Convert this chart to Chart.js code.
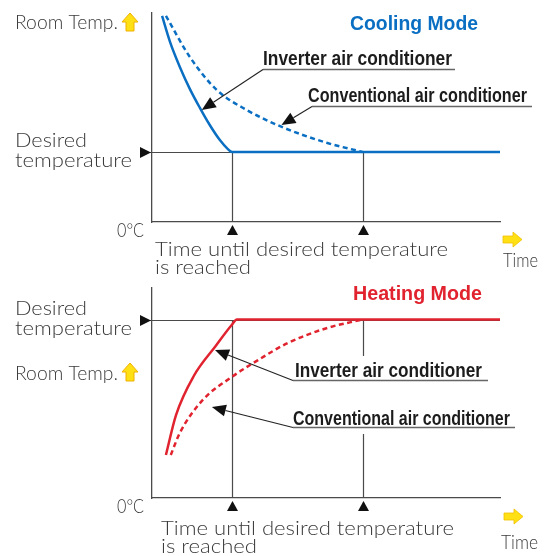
<!DOCTYPE html>
<html>
<head>
<meta charset="utf-8">
<title>Inverter vs conventional air conditioner</title>
<script src="https://cdn.jsdelivr.net/npm/chart.js@4.4.1/dist/chart.umd.min.js"></script>
<style>
  html, body { margin: 0; padding: 0; background: #fff; }
  #wrap { position: relative; width: 549px; height: 556px; overflow: hidden; }
  #wrap canvas { position: absolute; left: 0; }
  #coolChart { top: 0; }
  #heatChart { top: 280px; }
</style>
</head>
<body>
<div id="wrap">
  <canvas id="coolChart" width="549" height="280" style="width:549px;height:280px"></canvas>
  <canvas id="heatChart" width="549" height="276" style="width:549px;height:276px"></canvas>
</div>
<script>
// time runs 0..100 along x, room temperature 0..100 up y (0 = 0°C)
const timeRange = [0, 100];
const tempRange = [0, 100];

// moments the two units reach the set point: inverter, conventional
const reachTimes = [23, 60.5];

// --- cooling ---
const coolDesired = 33.5;
const coolInverterTime = [2.9, 5.2, 8.0, 10.9, 13.8, 16.6, 19.5, 21.8, 23, 100];
const coolInverterTemp = [98.6, 86.1, 74.2, 63.6, 54.5, 46.4, 39.2, 34.9, 33.5, 33.5];
const coolConventionalTime = [4.0, 10.9, 18.6, 27.2, 37.3, 50.4, 60.5];
const coolConventionalTemp = [98.6, 78.9, 63.2, 53.6, 45.5, 37.8, 33.5];
const coolTips = [[14.3, 53.6], [37.2, 46.4]];

// --- heating ---
const heatDesired = 85;
const heatInverterTime = [4.0, 6.9, 12.0, 18.3, 22.9, 24.4, 100];
const heatInverterTemp = [20.5, 39.5, 58.1, 72.4, 82.4, 85, 85];
const heatConventionalTime = [5.4, 8.0, 14.6, 22.9, 31.0, 39.0, 50.4, 60.5];
const heatConventionalTemp = [20.5, 31.0, 46.7, 57.6, 66.2, 73.8, 81.0, 85];
const heatTips = [[18.1, 70.5], [17.2, 43.3]];

const BLUE = '#0a6fc2';
const RED = '#e1232f';
const GRAY = '#4a4a4a';
const TEXT = '#3a3a3a';
const INK = '#1c1c1c';
const LIGHT_FONT = '300 20px Lato, "Liberation Sans", Arial, sans-serif';
const BOLD_NARROW = 'bold 20px "Liberation Sans Narrow", "Liberation Sans", Arial, sans-serif';
const BOLD_FONT = 'bold 20px "Liberation Sans", Arial, sans-serif';

// draws text squeezed/stretched to an exact width
function fitText(ctx, str, x, y, w, font, color) {
    ctx.save();
    ctx.font = font;
    ctx.fillStyle = color;
    ctx.textBaseline = 'alphabetic';
    ctx.textAlign = 'left';
    const m = ctx.measureText(str).width;
    ctx.translate(x, y);
    ctx.scale(w / m, 1);
    ctx.fillText(str, 0, 0);
    ctx.restore();
}

function triangle(ctx, a, b, c, color) {
    ctx.fillStyle = color;
    ctx.beginPath();
    ctx.moveTo(a[0], a[1]);
    ctx.lineTo(b[0], b[1]);
    ctx.lineTo(c[0], c[1]);
    ctx.closePath();
    ctx.fill();
}

function arrowLine(ctx, x0, y0, x1, y1) {
    const ang = Math.atan2(y1 - y0, x1 - x0);
    const len = 14, hw = 6;
    const bx = x1 - Math.cos(ang) * len, by = y1 - Math.sin(ang) * len;
    ctx.strokeStyle = '#222';
    ctx.lineWidth = 1.1;
    ctx.beginPath();
    ctx.moveTo(x0, y0);
    ctx.lineTo(bx, by);
    ctx.stroke();
    triangle(ctx, [x1, y1],
        [bx + Math.sin(ang) * hw, by - Math.cos(ang) * hw],
        [bx - Math.sin(ang) * hw, by + Math.cos(ang) * hw], '#111');
}

// yellow block arrows next to the axis names
function upArrow(ctx, x, y) {
    ctx.save();
    ctx.fillStyle = '#ffe014';
    ctx.strokeStyle = '#f0b000';
    ctx.lineWidth = 1;
    ctx.beginPath();
    ctx.moveTo(x + 8, y);
    ctx.lineTo(x + 16, y + 9);
    ctx.lineTo(x + 12, y + 9);
    ctx.lineTo(x + 12, y + 18);
    ctx.lineTo(x + 4, y + 18);
    ctx.lineTo(x + 4, y + 9);
    ctx.lineTo(x, y + 9);
    ctx.closePath();
    ctx.fill();
    ctx.stroke();
    ctx.restore();
}

function rightArrow(ctx, x, y) {
    ctx.save();
    ctx.fillStyle = '#ffe014';
    ctx.strokeStyle = '#f0c000';
    ctx.lineWidth = 0.8;
    ctx.beginPath();
    ctx.moveTo(x, y + 4);
    ctx.lineTo(x + 10, y + 4);
    ctx.lineTo(x + 10, y);
    ctx.lineTo(x + 19, y + 7.5);
    ctx.lineTo(x + 10, y + 15);
    ctx.lineTo(x + 10, y + 11);
    ctx.lineTo(x, y + 11);
    ctx.closePath();
    ctx.fill();
    ctx.stroke();
    ctx.restore();
}

const diagramPlugin = {
    id: 'diagram',
    beforeDatasetsDraw(chart, args, opts) {
        const ctx = chart.ctx;
        const xs = chart.scales.x, ys = chart.scales.y;
        const area = chart.chartArea;
        const yd = Math.round(ys.getPixelForValue(opts.desired)) + 0.5;
        ctx.save();
        ctx.strokeStyle = GRAY;
        ctx.lineWidth = 1.2;
        // set-point level
        ctx.beginPath();
        ctx.moveTo(area.left - 2, yd);
        ctx.lineTo(xs.getPixelForValue(timeRange[1]), yd);
        ctx.stroke();
        triangle(ctx, [area.left - 12, yd - 5.5], [area.left - 1, yd], [area.left - 12, yd + 5.5], '#111');

        // drop lines and time markers
        reachTimes.forEach((t, i) => {
            const px = Math.round(xs.getPixelForValue(t)) + 0.5;
            const gap = opts.dropGaps[i];
            ctx.strokeStyle = GRAY;
            ctx.beginPath();
            if (gap) {
                ctx.moveTo(px, yd);
                ctx.lineTo(px, ys.getPixelForValue(gap[1]));
                ctx.moveTo(px, ys.getPixelForValue(gap[0]));
                ctx.lineTo(px, area.bottom);
            } else {
                ctx.moveTo(px, yd);
                ctx.lineTo(px, area.bottom);
            }
            ctx.stroke();
            triangle(ctx, [px, area.bottom + 3], [px + 5.5, area.bottom + 13], [px - 5.5, area.bottom + 13], '#111');
        });
        ctx.restore();
    },
    afterDatasetsDraw(chart, args, opts) {
        const ctx = chart.ctx;
        const xs = chart.scales.x, ys = chart.scales.y;
        ctx.save();
        opts.texts.forEach(t => fitText(ctx, t[0], t[1], t[2], t[3], t[4] || LIGHT_FONT, t[5] || TEXT));
        opts.upArrow && upArrow(ctx, opts.upArrow[0], opts.upArrow[1]);
        opts.rightArrow && rightArrow(ctx, opts.rightArrow[0], opts.rightArrow[1]);

        // callouts: label, underline, leader with arrowhead onto the curve
        opts.callouts.forEach((c, i) => {
            fitText(ctx, c.text, c.x, c.y, c.w, BOLD_NARROW, INK);
            ctx.strokeStyle = '#666';
            ctx.lineWidth = 1.6;
            ctx.beginPath();
            ctx.moveTo(c.line[0], c.line[2]);
            ctx.lineTo(c.line[1], c.line[2]);
            ctx.stroke();
            const tip = opts.tips[i];
            arrowLine(ctx, c.line[0], c.line[2],
                xs.getPixelForValue(tip[0]), ys.getPixelForValue(tip[1]));
        });
        ctx.restore();
    }
};

function series(times, temps, color, dashed) {
    return {
        data: times.map((t, i) => ({ x: t, y: temps[i] })),
        borderColor: color,
        borderWidth: 2.5,
        borderDash: dashed ? [5, 3.5] : [],
        pointRadius: 0,
        fill: false,
        cubicInterpolationMode: 'monotone'
    };
}

function axis(range, horizontal) {
    return {
        type: 'linear',
        min: range[0],
        max: range[1],
        grid: { display: false, drawTicks: false },
        ticks: { display: false },
        border: { display: true, color: GRAY, width: 1.3 },
        afterFit(scale) {
            if (horizontal) scale.height = 0; else scale.width = 0;
        }
    };
}

function makePanel(id, padding, datasets, diagram) {
    return new Chart(document.getElementById(id), {
        type: 'line',
        data: { datasets: datasets },
        options: {
            responsive: false,
            animation: false,
            events: [],
            layout: { autoPadding: false, padding: padding },
            scales: { x: axis(timeRange, true), y: axis(tempRange, false) },
            plugins: {
                legend: { display: false },
                tooltip: { enabled: false },
                diagram: diagram
            }
        },
        plugins: [diagramPlugin]
    });
}

// --- Cooling panel ---
makePanel('coolChart', { left: 152, right: 49, top: 13, bottom: 58 }, [
    series(coolConventionalTime, coolConventionalTemp, BLUE, true),
    series(coolInverterTime, coolInverterTemp, BLUE, false)
], {
    desired: coolDesired,
    dropGaps: [null, null],
    tips: coolTips,
    texts: [
        ['Cooling Mode', 350, 30, 128, BOLD_FONT, BLUE],
        ['Room Temp.', 15, 29, 103],
        ['Desired', 15, 147, 72],
        ['temperature', 15, 167, 117],
        ['0\u00b0C', 117, 237, 27],
        ['Time until desired temperature', 155, 256, 293],
        ['is reached', 155, 274, 96],
        ['Time', 503, 267, 35]
    ],
    upArrow: [122, 13],
    rightArrow: [503, 232],
    callouts: [
        { text: 'Inverter air conditioner', x: 263, y: 65, w: 189, line: [263, 455, 69.5] },
        { text: 'Conventional air conditioner', x: 308, y: 102, w: 219, line: [312, 532, 106.5] }
    ]
});

// --- Heating panel ---
makePanel('heatChart', { left: 152, right: 49, top: 8, bottom: 58 }, [
    series(heatConventionalTime, heatConventionalTemp, RED, true),
    series(heatInverterTime, heatInverterTemp, RED, false)
], {
    desired: heatDesired,
    dropGaps: [null, [30.5, 67.6]],
    tips: heatTips,
    texts: [
        ['Heating Mode', 353, 20, 129, BOLD_FONT, RED],
        ['Desired', 15, 35, 72],
        ['temperature', 15, 55, 117],
        ['Room Temp.', 15, 100, 103],
        ['0\u00b0C', 117, 233, 27],
        ['Time until desired temperature', 161, 255, 293],
        ['is reached', 161, 273, 96],
        ['Time', 501, 269, 37]
    ],
    upArrow: [122, 83],
    rightArrow: [504, 229],
    callouts: [
        { text: 'Inverter air conditioner', x: 295, y: 97, w: 187, line: [293, 488, 100.5] },
        { text: 'Conventional air conditioner', x: 293, y: 145, w: 217, line: [293, 515, 147.5] }
    ]
});
</script>
</body>
</html>
